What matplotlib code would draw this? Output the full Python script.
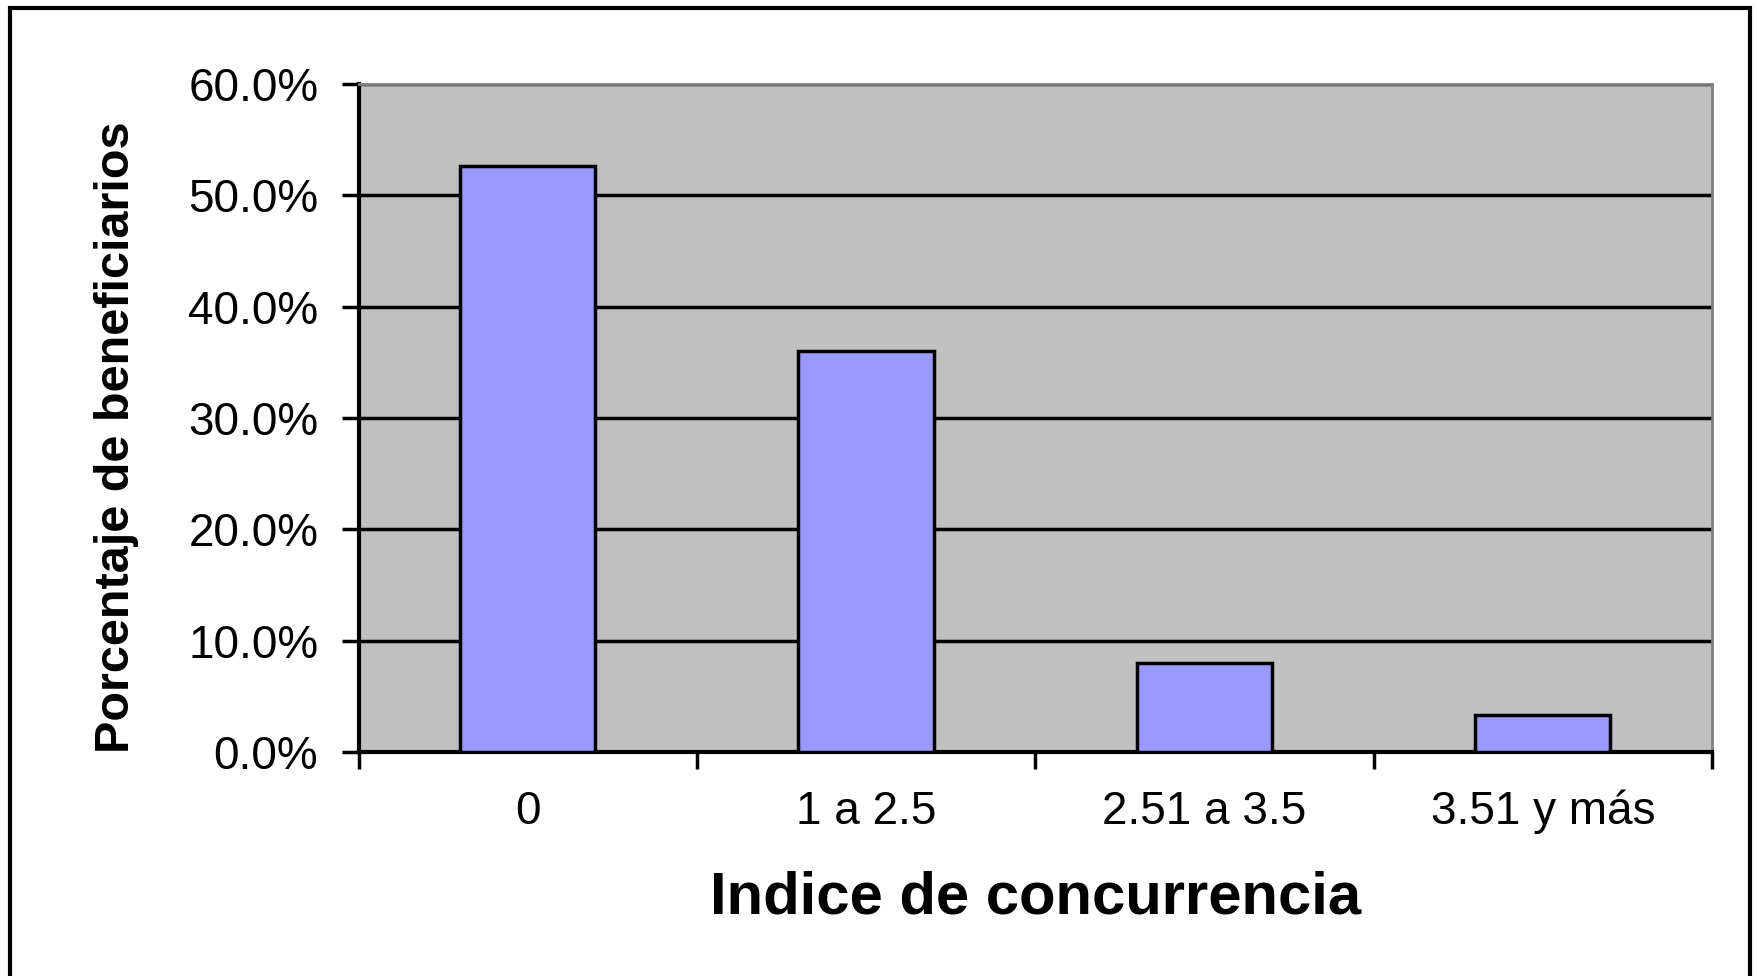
import matplotlib
matplotlib.use("Agg")
import matplotlib.pyplot as plt
from matplotlib.patches import Rectangle
from matplotlib.ticker import FixedLocator, PercentFormatter

plt.rcParams['font.family'] = ['Liberation Sans', 'DejaVu Sans']

categorias = ['0', '1 a 2.5', '2.51 a 3.5', '3.51 y más']
porcentajes = [52.6, 36.0, 8.0, 3.3]
yticks = [0, 10, 20, 30, 40, 50, 60]

W, H = 1757, 976
fig = plt.figure(figsize=(W / 100, H / 100), dpi=100)
ax = fig.add_axes([358.6 / W, 1 - 752 / H, (1712 - 358.6) / W, (752 - 84) / H])

ax.set_facecolor('#C0C0C0')
x = list(range(len(categorias)))
ax.bar(x, porcentajes, width=0.4, color='#9999FF', edgecolor='black', linewidth=2.5, zorder=3)

ax.set_xlim(-0.5, len(categorias) - 0.5)
ax.set_ylim(0, 60)
ax.set_yticks(yticks)
ax.yaxis.set_major_formatter(PercentFormatter(decimals=1))
ax.grid(axis='y', color='black', linewidth=2.5, zorder=1)
ax.set_axisbelow(True)

# ticks at category boundaries, labels at centres
ax.xaxis.set_major_locator(FixedLocator([i - 0.5 for i in range(len(categorias) + 1)]))
ax.xaxis.set_minor_locator(FixedLocator(x))
ax.set_xticklabels([], minor=False)
ax.set_xticklabels(categorias, minor=True)
ax.tick_params(axis='x', which='major', length=12, width=2.5, direction='out')
ax.tick_params(axis='x', which='minor', length=0, pad=27, labelsize=33)
ax.tick_params(axis='y', length=12, width=2.5, direction='out', pad=17, labelsize=33)

for s in ['top', 'right']:
    ax.spines[s].set_color('#808080')
    ax.spines[s].set_linewidth(2)
for s in ['left', 'bottom']:
    ax.spines[s].set_color('black')
    ax.spines[s].set_linewidth(3)

ax.set_xlabel('Indice de concurrencia', fontsize=43, fontweight='bold', labelpad=26)
ax.set_ylabel('Porcentaje de beneficiarios', fontsize=35, fontweight='bold')
ax.yaxis.set_label_coords(-0.162, 0.471)

# outer chart frame (bottom edge falls outside the picture)
fig.add_artist(Rectangle((10 / W, -0.05), (1750 - 10) / W, 1.05 - 8 / H,
                         transform=fig.transFigure, fill=False, edgecolor='black', linewidth=3))

fig.savefig('out.png', dpi=100, facecolor='white')
